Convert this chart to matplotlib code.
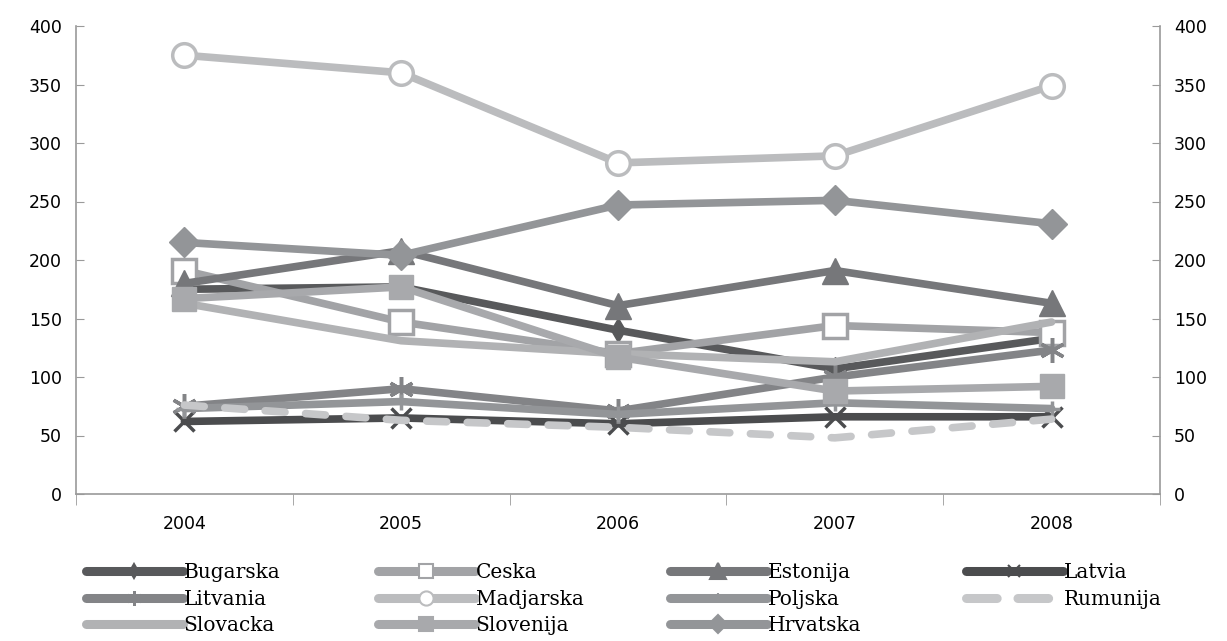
import matplotlib
matplotlib.use('Agg')
import matplotlib.pyplot as plt
from matplotlib.lines import Line2D
from matplotlib.ticker import FixedLocator, NullFormatter
import numpy as np

years = ['2004', '2005', '2006', '2007', '2008']

bugarska  = [175, 177, 140, 107, 133]
ceska     = [191, 147, 120, 144, 138]
estonija  = [180, 208, 161, 191, 163]
latvia    = [62, 65, 60, 66, 66]
litvania  = [75, 90, 71, 100, 123]
madjarska = [375, 360, 283, 289, 349]
poljska   = [73, 79, 68, 78, 73]
rumunija  = [76, 63, 57, 48, 64]
slovacka  = [163, 131, 120, 113, 147]
slovenija = [167, 177, 117, 88, 92]
hrvatska  = [215, 204, 247, 251, 231]

# name, values, color, marker, ms, marker face, style
series = [
    ('Bugarska',  bugarska,  '#58595b', 'd', 12, None,    '-'),
    ('Ceska',     ceska,     '#a2a3a6', 's', 17, 'white', '-'),
    ('Estonija',  estonija,  '#76777a', '^', 19, None,    '-'),
    ('Latvia',    latvia,    '#4b4c4e', 'x', 15, None,    '-'),
    ('Litvania',  litvania,  '#838487', (6, 2, 0), 18, None, '-'),
    ('Madjarska', madjarska, '#bbbcbe', 'o', 17, 'white', '-'),
    ('Poljska',   poljska,   '#939598', '+', 12, None,    '-'),
    ('Rumunija',  rumunija,  '#c6c7c9', None, 0, None,    '--'),
    ('Slovacka',  slovacka,  '#b1b2b4', None, 0, None,    '-'),
    ('Slovenija', slovenija, '#a8a9ac', 's', 17, None,    '-'),
    ('Hrvatska',  hrvatska,  '#939598', 'D', 15, None,    '-'),
]

fig = plt.figure(figsize=(12.27, 6.41), dpi=100)
ax = fig.add_axes([76/1227, 1-494/641, (1160-76)/1227, 468/641])
x = np.arange(len(years))

handles = {}
for name, vals, col, mk, ms, face, ls in series:
    kw = dict(color=col, lw=5.5, solid_capstyle='round', solid_joinstyle='round')
    if ls == '--':
        kw.update(dashes=(2.6, 2.7), dash_capstyle='round')
    if mk is not None:
        kw.update(marker=mk, ms=ms, mfc=face if face else col, mec=col,
                  mew=2.5 if face else (2.5 if mk in ('x', '+') or isinstance(mk, tuple) else 1))
    ax.plot(x, vals, **kw)
    hk = dict(color=col, lw=6.5, solid_capstyle='round')
    if ls == '--':
        hk.update(dashes=(3.4, 2.3), dash_capstyle='round')
    if mk is not None:
        hk.update(marker=mk, ms=ms * 0.6, mfc=face if face else col, mec=col,
                  mew=1.5)
    handles[name] = Line2D([], [], **hk)

ax.set_xlim(-0.5, 4.5)
ax.set_ylim(0, 400)
ax.set_xticks(x)
ax.set_xticklabels(years)
ax.xaxis.set_minor_locator(FixedLocator(np.arange(-0.5, 5, 1)))
ax.xaxis.set_minor_formatter(NullFormatter())
ax.tick_params(axis='x', which='major', length=0, pad=15, labelsize=12.5)
ax.tick_params(axis='x', which='minor', length=8, direction='out', color='#9a9a9a')
ax.set_yticks(np.arange(0, 401, 50))
ax.tick_params(axis='y', direction='in', length=6, color='#9a9a9a', labelsize=12.5,
               left=True, right=True, labelleft=True, labelright=True, pad=10)
for lab in ax.get_xticklabels() + ax.get_yticklabels():
    lab.set_family(['Liberation Sans Narrow', 'DejaVu Sans'])
for s in ['left', 'right', 'bottom']:
    ax.spines[s].set_color('#9a9a9a')
    ax.spines[s].set_linewidth(1.2)
ax.spines['top'].set_visible(False)

cols = [['Bugarska', 'Litvania', 'Slovacka'],
        ['Ceska', 'Madjarska', 'Slovenija'],
        ['Estonija', 'Poljska', 'Hrvatska'],
        ['Latvia', 'Rumunija']]
col_x = [86, 378, 670, 966]
for names, cx in zip(cols, col_x):
    fig.legend([handles[n] for n in names], names, loc='upper left',
               bbox_to_anchor=(cx/1227, 1-563/641), frameon=False,
               handlelength=4.8, handletextpad=0.05, labelspacing=0.38,
               borderaxespad=0, borderpad=0,
               prop=dict(family='DejaVu Serif', size=14.5))

fig.savefig('out.png', dpi=100)
